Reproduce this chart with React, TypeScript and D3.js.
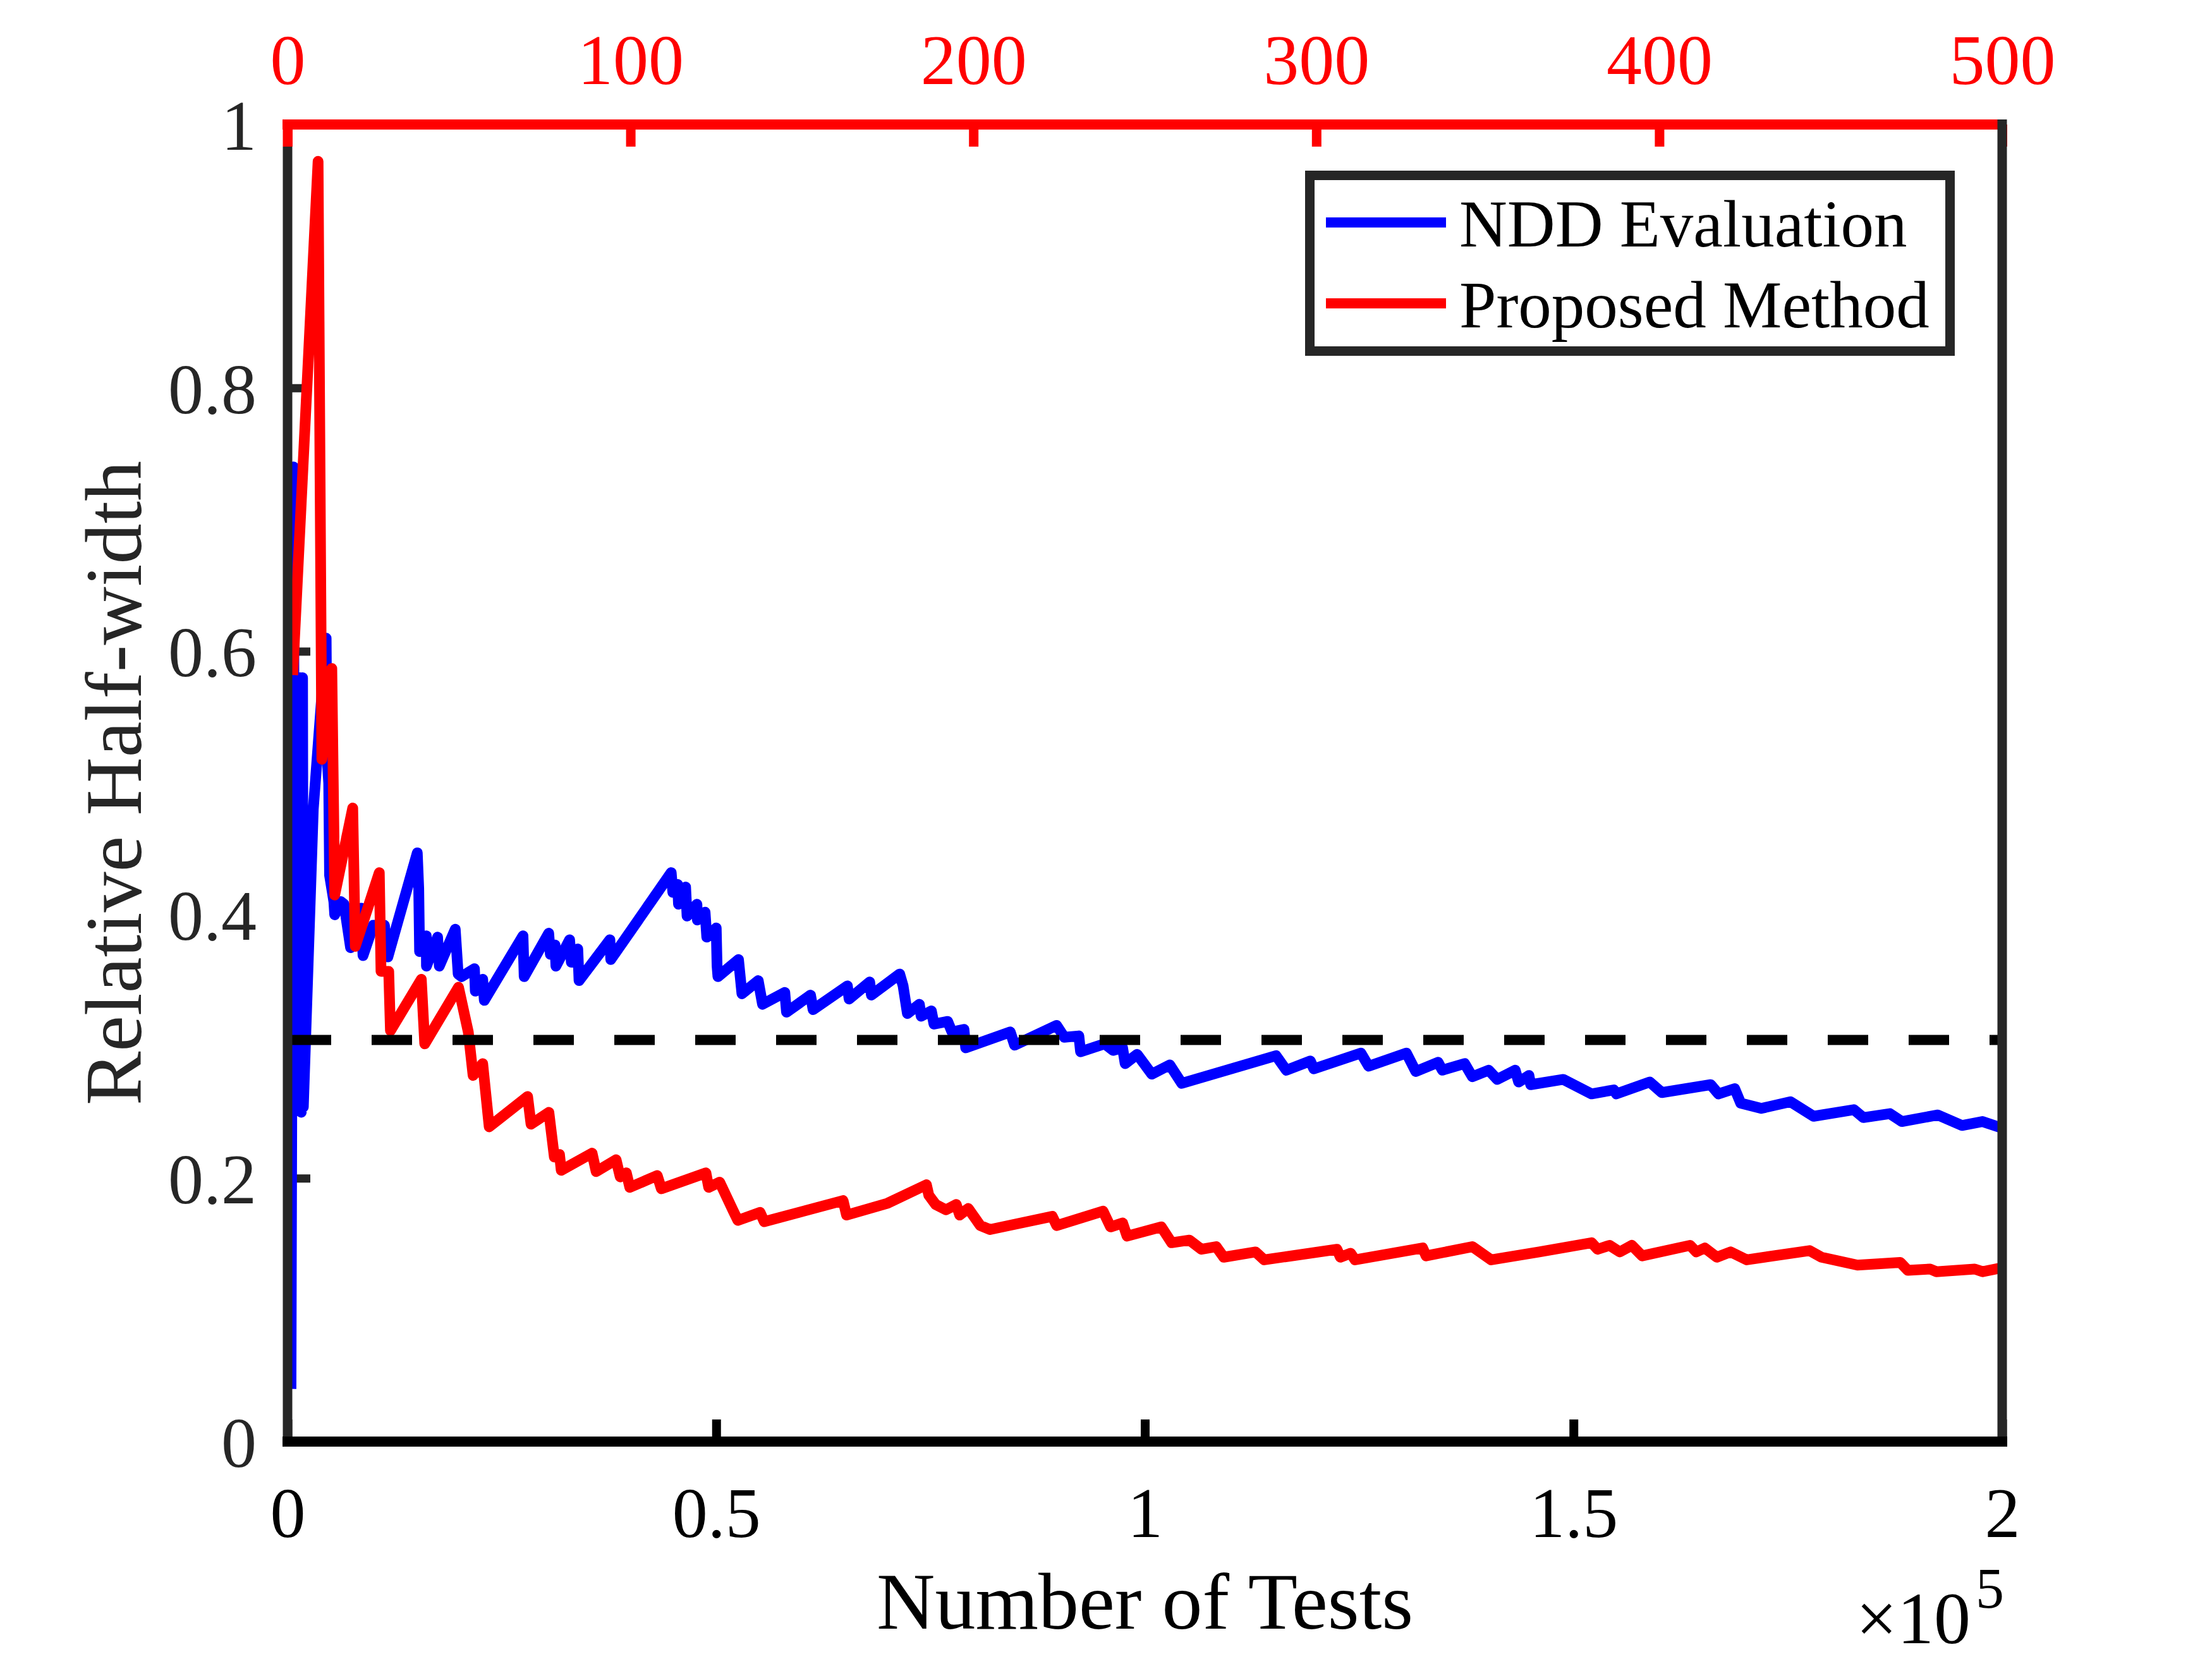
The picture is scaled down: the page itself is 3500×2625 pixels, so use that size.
import { useEffect, useRef } from "react";
import * as d3 from "d3";

const width = 3500;
const height = 2625;
const plot = { left: 455, right: 3168, top: 197, bottom: 2281 };
const serif = "'Liberation Serif', 'Times New Roman', serif";

// NDD evaluation, x in units of 10^5 tests (bottom axis)
const nddTests = [
  0.004, 0.007, 0.008, 0.009, 0.01, 0.011, 0.012, 0.013, 0.014, 0.015, 0.016, 0.0175, 0.0184,
  0.03, 0.045, 0.046, 0.048, 0.049,
  0.054, 0.055, 0.062, 0.066, 0.068, 0.0735, 0.086, 0.088, 0.1, 0.113, 0.117, 0.1513, 0.153,
  0.154, 0.1618, 0.162, 0.175, 0.177, 0.1956, 0.199, 0.203, 0.218, 0.219, 0.2276, 0.2295,
  0.2746, 0.276, 0.3046, 0.3065, 0.312, 0.313, 0.329, 0.331, 0.3385, 0.34, 0.376, 0.377,
  0.4475, 0.4494, 0.455, 0.456, 0.4643, 0.466, 0.4775, 0.478, 0.487, 0.489, 0.5, 0.501, 0.502,
  0.526, 0.53, 0.549, 0.554, 0.58, 0.582, 0.61, 0.613, 0.653, 0.655, 0.679, 0.681, 0.714,
  0.718, 0.723, 0.737, 0.739, 0.751, 0.754, 0.77, 0.775, 0.789, 0.791, 0.843, 0.848, 0.897,
  0.906, 0.923, 0.925, 0.953, 0.963, 0.974, 0.977, 0.991, 1.008, 1.029, 1.043, 1.153, 1.165,
  1.193, 1.197, 1.252, 1.261, 1.305, 1.316, 1.342, 1.347, 1.373, 1.382, 1.401, 1.411, 1.432,
  1.436, 1.448, 1.45, 1.488, 1.521, 1.547, 1.55, 1.589, 1.603, 1.66, 1.669, 1.688, 1.695,
  1.719, 1.753, 1.78, 1.827, 1.838, 1.869, 1.883, 1.925, 1.953, 1.977, 2.0,
];
const nddHalfWidth = [
  0.04, 0.74, 0.3, 0.58, 0.27, 0.58, 0.26, 0.58, 0.27, 0.58, 0.25, 0.58, 0.254,
  0.48, 0.61, 0.52, 0.5, 0.43,
  0.41, 0.4, 0.41, 0.408, 0.399, 0.375, 0.405, 0.369, 0.392, 0.392, 0.368, 0.447, 0.42,
  0.372, 0.384, 0.361, 0.383, 0.361, 0.389, 0.355, 0.353, 0.359, 0.342, 0.351, 0.335,
  0.384, 0.353, 0.386, 0.37, 0.377, 0.361, 0.381, 0.364, 0.374, 0.35, 0.381, 0.366,
  0.432, 0.417, 0.423, 0.408, 0.421, 0.399, 0.408, 0.396, 0.402, 0.383, 0.39, 0.361, 0.353,
  0.366, 0.34, 0.35, 0.332, 0.341, 0.326, 0.339, 0.328, 0.346, 0.336, 0.349, 0.339, 0.355,
  0.346, 0.325, 0.332, 0.323, 0.327, 0.317, 0.319, 0.311, 0.313, 0.299, 0.311, 0.301, 0.316,
  0.307, 0.308, 0.296, 0.302, 0.297, 0.299, 0.287, 0.294, 0.279, 0.286, 0.272, 0.293, 0.282,
  0.289, 0.283, 0.295, 0.285, 0.295, 0.281, 0.288, 0.282, 0.287, 0.277, 0.282, 0.275, 0.282,
  0.273, 0.278, 0.271, 0.275, 0.264, 0.267, 0.264, 0.273, 0.265, 0.271, 0.264, 0.268, 0.257,
  0.253, 0.258, 0.247, 0.252, 0.246, 0.249, 0.243, 0.248, 0.24, 0.243, 0.238,
];

// proposed method, x in tests (top axis)
const proposedTests = [
  1.5, 8.9, 10, 12.9, 13.75, 19, 19.75, 26.75, 27.25, 29.5, 30, 39, 40, 49.85, 52.7, 54.1,
  56.9, 58.8, 70, 71, 76.2, 77.8, 79.3, 79.8, 88.8, 90, 95.8, 97, 98.8, 99.8, 107.8, 109,
  122, 122.8, 126, 130, 131.3, 137.8, 139, 162, 163, 175, 186.3, 187, 189, 192, 195, 196,
  198.5, 202, 204.8, 223, 224.3, 237.8, 240, 243.5, 244.8, 254.8, 257.8, 263, 266.5, 270.8,
  273, 282.3, 284.8, 306, 307, 310, 311.3, 331, 332, 345.5, 351, 365, 380.3, 382, 385.5,
  388.5, 392, 395, 409, 410.8, 413.3, 416.8, 420.8, 425.5, 443.8, 447.3, 457.8, 463.8,
  470.3, 472.5, 479, 480.8, 492, 494.3, 500,
];
const proposedHalfWidth = [
  0.582, 0.972, 0.518, 0.587, 0.415, 0.481, 0.376, 0.432, 0.357, 0.357, 0.312, 0.351, 0.302,
  0.345, 0.311, 0.278, 0.287, 0.239, 0.262, 0.241, 0.25, 0.216, 0.218, 0.206, 0.219, 0.205,
  0.214, 0.201, 0.204, 0.193, 0.202, 0.192, 0.204, 0.193, 0.197, 0.175, 0.168, 0.174, 0.167,
  0.183, 0.172, 0.181, 0.195, 0.187, 0.18, 0.176, 0.18, 0.172, 0.177, 0.164, 0.161, 0.171,
  0.164, 0.175, 0.163, 0.166, 0.156, 0.163, 0.151, 0.153, 0.146, 0.148, 0.14, 0.144, 0.138,
  0.146, 0.14, 0.143, 0.138, 0.147, 0.141, 0.148, 0.138, 0.144, 0.151, 0.146, 0.149, 0.144,
  0.149, 0.141, 0.149, 0.144, 0.147, 0.14, 0.144, 0.138, 0.145, 0.14, 0.134, 0.135, 0.136,
  0.13, 0.131, 0.129, 0.131, 0.129, 0.132,
];

const targetHalfWidth = 0.305;
const bottomTicks = [0, 0.5, 1, 1.5, 2];
const topTicks = [0, 100, 200, 300, 400, 500];
const leftTicks = [0, 0.2, 0.4, 0.6, 0.8, 1];
const legendLabels = ["NDD Evaluation", "Proposed Method"];
const seriesColors = ["#0000ff", "#ff0000"];

const App = () => {
  const svgRef = useRef<SVGSVGElement>(null);

  useEffect(() => {
    const svg = d3.select(svgRef.current);
    svg.selectAll("*").remove();

    const x = d3.scaleLinear().domain([0, 2]).range([plot.left, plot.right]);
    const xTop = d3.scaleLinear().domain([0, 500]).range([plot.left, plot.right]);
    const y = d3.scaleLinear().domain([0, 1]).range([plot.bottom, plot.top]);
    const fmt = d3.format("~g");

    svg.append("rect").attr("width", width).attr("height", height).attr("fill", "#fff");

    // bottom axis
    const gBottom = svg
      .append("g")
      .attr("transform", `translate(0,${plot.bottom})`)
      .call(d3.axisBottom(x).tickValues(bottomTicks).tickFormat(fmt).tickSize(-35).tickPadding(71));
    gBottom.select(".domain").remove();
    gBottom.selectAll("line").attr("stroke", "#000").attr("stroke-width", 14);
    gBottom
      .selectAll("text")
      .attr("fill", "#000")
      .attr("font-size", 112)
      .attr("font-family", serif);

    // left axis
    const gLeft = svg
      .append("g")
      .attr("transform", `translate(${plot.left},0)`)
      .call(d3.axisLeft(y).tickValues(leftTicks).tickFormat(fmt).tickSize(-36).tickPadding(49));
    gLeft.select(".domain").remove();
    gLeft.selectAll("line").attr("stroke", "#262626").attr("stroke-width", 13);
    gLeft
      .selectAll("text")
      .attr("fill", "#262626")
      .attr("font-size", 112)
      .attr("font-family", serif)
      .attr("dy", "0.35em");

    // top axis (red)
    const gTop = svg
      .append("g")
      .attr("transform", `translate(0,${plot.top})`)
      .call(d3.axisTop(xTop).tickValues(topTicks).tickFormat(fmt).tickSize(-35).tickPadding(64));
    gTop.select(".domain").remove();
    gTop.selectAll("line").attr("stroke", "#ff0000").attr("stroke-width", 15);
    gTop
      .selectAll("text")
      .attr("fill", "#ff0000")
      .attr("font-size", 112)
      .attr("font-family", serif);

    // series
    const nddLine = d3
      .line<number>()
      .x((_, i) => x(nddTests[i]))
      .y((d) => y(d));
    const proposedLine = d3
      .line<number>()
      .x((_, i) => xTop(proposedTests[i]))
      .y((d) => y(d));

    svg
      .append("path")
      .datum(nddHalfWidth)
      .attr("fill", "none")
      .attr("stroke", seriesColors[0])
      .attr("stroke-width", 17)
      .attr("stroke-linejoin", "round")
      .attr("d", nddLine);

    svg
      .append("path")
      .datum(proposedHalfWidth)
      .attr("fill", "none")
      .attr("stroke", seriesColors[1])
      .attr("stroke-width", 17)
      .attr("stroke-linejoin", "round")
      .attr("d", proposedLine);

    // target line
    svg
      .append("line")
      .attr("x1", x(0) + 5)
      .attr("x2", x(2))
      .attr("y1", y(targetHalfWidth))
      .attr("y2", y(targetHalfWidth))
      .attr("stroke", "#000")
      .attr("stroke-width", 16)
      .attr("stroke-dasharray", "64 64");

    // box
    const spine = (x1: number, y1: number, x2: number, y2: number, color: string, w: number) =>
      svg
        .append("line")
        .attr("x1", x1)
        .attr("y1", y1)
        .attr("x2", x2)
        .attr("y2", y2)
        .attr("stroke", color)
        .attr("stroke-width", w);
    spine(plot.left, plot.top + 35, plot.left, plot.bottom + 8, "#262626", 15);
    spine(plot.left, plot.top - 8, plot.left, plot.top + 35, "#ff0000", 15);
    spine(plot.left - 8, plot.top, plot.right - 7, plot.top, "#ff0000", 16);
    spine(plot.right, plot.top - 8, plot.right, plot.bottom + 8, "#262626", 15);
    spine(plot.left - 8, plot.bottom, plot.right + 8, plot.bottom, "#000", 16);

    // axis labels
    svg
      .append("text")
      .attr("x", (plot.left + plot.right) / 2)
      .attr("y", 2577)
      .attr("text-anchor", "middle")
      .attr("font-family", serif)
      .attr("font-size", 128)
      .attr("fill", "#000")
      .text("Number of Tests");

    svg
      .append("text")
      .attr("transform", `translate(223,${(plot.top + plot.bottom) / 2}) rotate(-90)`)
      .attr("text-anchor", "middle")
      .attr("font-family", serif)
      .attr("font-size", 128)
      .attr("fill", "#262626")
      .text("Relative Half-width");

    svg
      .append("text")
      .attr("x", 3118)
      .attr("y", 2600)
      .attr("text-anchor", "end")
      .attr("font-family", serif)
      .attr("font-size", 116)
      .attr("fill", "#000")
      .text("×10");
    svg
      .append("text")
      .attr("x", 3126)
      .attr("y", 2544)
      .attr("font-family", serif)
      .attr("font-size", 90)
      .attr("fill", "#000")
      .text("5");

    // legend
    const legend = svg.append("g");
    legend
      .append("rect")
      .attr("x", 2072.5)
      .attr("y", 277.5)
      .attr("width", 1013)
      .attr("height", 278)
      .attr("fill", "#fff")
      .attr("stroke", "#262626")
      .attr("stroke-width", 15);
    legendLabels.forEach((label, i) => {
      const ly = 352 + i * 128;
      legend
        .append("line")
        .attr("x1", 2098)
        .attr("x2", 2288)
        .attr("y1", ly)
        .attr("y2", ly)
        .attr("stroke", seriesColors[i])
        .attr("stroke-width", 16);
      legend
        .append("text")
        .attr("x", 2309)
        .attr("y", ly + 38)
        .attr("font-family", serif)
        .attr("font-size", 105)
        .attr("fill", "#000")
        .text(label);
    });
  }, []);

  return (
    <svg
      ref={svgRef}
      width={width}
      height={height}
      viewBox={`0 0 ${width} ${height}`}
      style={{ position: "absolute", left: 0, top: 0 }}
    ></svg>
  );
};

export default App;
